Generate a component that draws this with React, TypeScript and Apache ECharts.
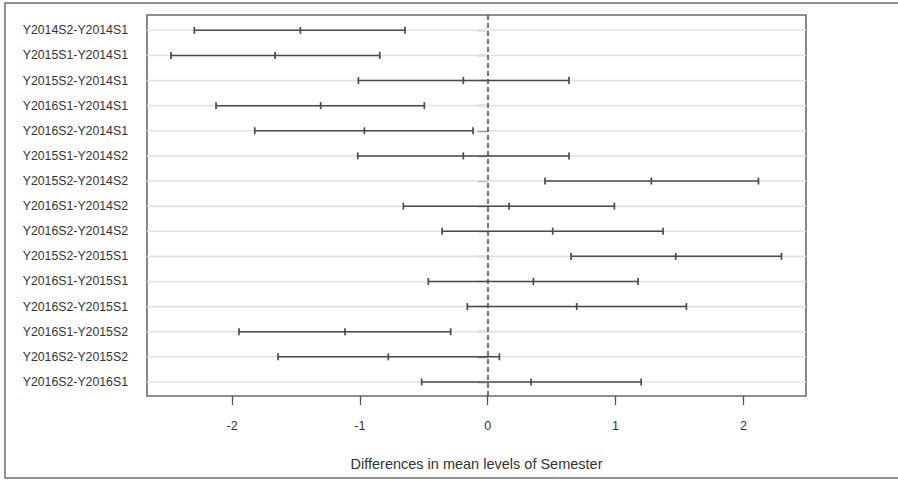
import React, { useEffect, useRef } from "react";
import * as echarts from "echarts";

const comparisons = [
  "Y2014S2-Y2014S1",
  "Y2015S1-Y2014S1",
  "Y2015S2-Y2014S1",
  "Y2016S1-Y2014S1",
  "Y2016S2-Y2014S1",
  "Y2015S1-Y2014S2",
  "Y2015S2-Y2014S2",
  "Y2016S1-Y2014S2",
  "Y2016S2-Y2014S2",
  "Y2015S2-Y2015S1",
  "Y2016S1-Y2015S1",
  "Y2016S2-Y2015S1",
  "Y2016S1-Y2015S2",
  "Y2016S2-Y2015S2",
  "Y2016S2-Y2016S1",
];
const lowerBounds = [-2.296, -2.478, -1.012, -2.126, -1.823, -1.017, 0.448, -0.66, -0.357, 0.652, -0.465, -0.16, -1.946, -1.641, -0.517];
const differences = [-1.466, -1.664, -0.191, -1.307, -0.965, -0.191, 1.28, 0.167, 0.508, 1.471, 0.357, 0.696, -1.117, -0.778, 0.339];
const upperBounds = [-0.647, -0.845, 0.636, -0.496, -0.115, 0.636, 2.118, 0.991, 1.372, 2.298, 1.176, 1.554, -0.29, 0.091, 1.2];
const xTicks = [-2, -1, 0, 1, 2];
const xTitle = "Differences in mean levels of Semester";

export default function App() {
  const ref = useRef<HTMLDivElement>(null);
  useEffect(() => {
    if (!ref.current) return;
    const chart = echarts.init(ref.current, null, { renderer: "svg" });
    const rows = comparisons.map((_, i) => i + 1);
    const data = comparisons.map((_, i) => [i + 1, lowerBounds[i], differences[i], upperBounds[i]]);
    const font = "'Liberation Sans', Arial, sans-serif";
    chart.setOption({
      animation: false,
      backgroundColor: "#ffffff",
      grid: {
        left: 147,
        top: 15,
        right: 92,
        bottom: 84,
        show: true,
        borderColor: "#6a6a6a",
        borderWidth: 1.6,
        backgroundColor: "transparent",
      },
      xAxis: {
        type: "value",
        min: -2.666,
        max: 2.49,
        axisLine: { show: false },
        splitLine: { show: false },
        axisTick: {
          show: true,
          customValues: xTicks,
          length: 9,
          lineStyle: { color: "#555", width: 1.3 },
        },
        axisLabel: {
          customValues: xTicks,
          margin: 23,
          color: "#333",
          fontSize: 12.5,
          fontFamily: font,
          formatter: (v: number) => String(v),
        },
      },
      yAxis: {
        type: "value",
        inverse: true,
        min: 0.39,
        max: 15.56,
        axisLine: { show: false },
        splitLine: { show: false },
        axisTick: {
          show: true,
          customValues: rows,
          length: 10,
          lineStyle: { color: "#555", width: 1.3 },
        },
        axisLabel: {
          customValues: rows,
          margin: 19,
          color: "#333",
          fontSize: 12.3,
          fontFamily: font,
          formatter: (v: number) => comparisons[Math.round(v) - 1] ?? "",
        },
      },
      series: [
        {
          type: "custom",
          encode: { x: [1, 2, 3], y: 0 },
          data,
          silent: true,
          renderItem: (params: any, api: any) => {
            const y = api.value(0);
            const pL = api.coord([api.value(1), y]);
            const pM = api.coord([api.value(2), y]);
            const pU = api.coord([api.value(3), y]);
            const cs = params.coordSys;
            const th = 3.5;
            const tickStyle = { stroke: "#4a4a4a", lineWidth: 1.7 };
            return {
              type: "group",
              children: [
                {
                  type: "line",
                  shape: { x1: cs.x, y1: pL[1], x2: cs.x + cs.width, y2: pL[1] },
                  style: { stroke: "#e2e2e2", lineWidth: 1.6 },
                },
                {
                  type: "line",
                  shape: { x1: pL[0], y1: pL[1], x2: pU[0], y2: pU[1] },
                  style: { stroke: "#4a4a4a", lineWidth: 1.5 },
                },
                { type: "line", shape: { x1: pL[0], y1: pL[1] - th, x2: pL[0], y2: pL[1] + th }, style: tickStyle },
                { type: "line", shape: { x1: pM[0], y1: pM[1] - th, x2: pM[0], y2: pM[1] + th }, style: tickStyle },
                { type: "line", shape: { x1: pU[0], y1: pU[1] - th, x2: pU[0], y2: pU[1] + th }, style: tickStyle },
              ],
            };
          },
          markLine: {
            silent: true,
            symbol: ["none", "none"],
            label: { show: false },
            lineStyle: { color: "#4a4a4a", type: [5, 3], width: 1.5 },
            data: [{ xAxis: 0 }],
          },
        },
      ],
      graphic: [
        {
          type: "rect",
          shape: { x: 5, y: 3, width: 900, height: 475 },
          style: { fill: "none", stroke: "#6e6e6e", lineWidth: 1.5 },
          silent: true,
        },
        {
          type: "text",
          x: 476.5,
          y: 464,
          style: {
            text: xTitle,
            fill: "#333",
            fontSize: 14.5,
            fontFamily: font,
            align: "center",
            verticalAlign: "middle",
          },
          silent: true,
        },
      ],
    });
    return () => chart.dispose();
  }, []);
  return (
    <div
      ref={ref}
      style={{ position: "fixed", left: 0, top: 0, width: 898, height: 480 }}
    />
  );
}
